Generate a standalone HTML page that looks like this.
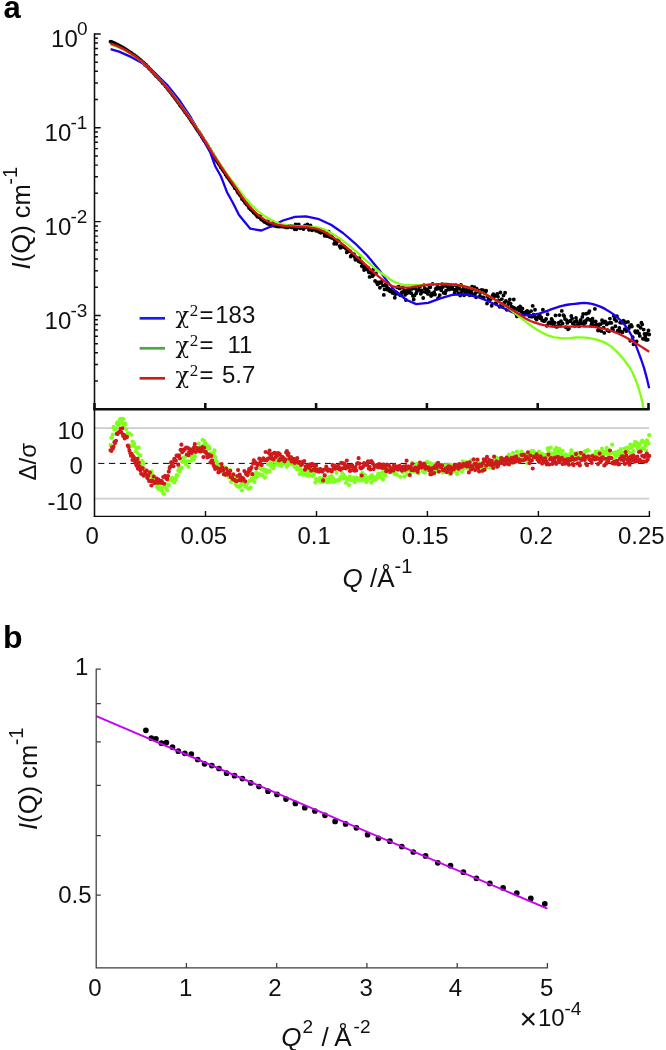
<!DOCTYPE html>
<html lang="en">
<head>
<meta charset="utf-8">
<title>SANS fits and Guinier plot</title>
<style>html,body{margin:0;padding:0;background:#fff}svg{display:block;will-change:transform}</style>
</head>
<body>
<svg width="666" height="1050" viewBox="0 0 666 1050" font-family='"Liberation Sans", Arial, Helvetica, sans-serif' fill="#111">
<rect width="666" height="1050" fill="#fff"/>
<text x="3.4" y="18.2" font-size="31" font-weight="bold" fill="#000">a</text>
<text x="3" y="648.4" font-size="32" font-weight="bold" fill="#000">b</text>
<g stroke="#cdcdcd" stroke-width="1.7" fill="none">
<path d="M94.5 428.2H649.2 M94.5 498.6H649.2"/>
</g>
<path d="M94.5 463.4H649.2" stroke="#000" stroke-width="1" stroke-dasharray="6.2 4.6" stroke-dashoffset="7.1" fill="none"/>
<g fill="none" stroke-linecap="round" stroke-width="4.2">
<path stroke="#80ff1e" d="M110.5 445.2h0M111.3 437.8h0M112.1 437.4h0M112.8 434.6h0M113.6 426.9h0M114.4 429.6h0M115.2 429.7h0M116 428.7h0M116.8 423.4h0M117.6 422.4h0M118.4 425.6h0M119.1 423.8h0M119.9 419.4h0M120.7 419h0M121.5 422.1h0M122.3 418.9h0M123.1 419h0M123.9 425.2h0M124.7 423.3h0M125.4 424.2h0M126.2 429.5h0M127 435.9h0M127.8 433.5h0M128.6 433.3h0M129.4 433.5h0M130.2 445.3h0M131 434.8h0M131.7 445.8h0M132.5 441.6h0M133.3 442h0M134.1 443.6h0M134.9 446.7h0M135.7 451.2h0M136.5 447.8h0M137.3 452.8h0M138 459.4h0M138.8 447.7h0M139.6 455.7h0M140.4 455.4h0M141.2 465h0M142 460.9h0M142.8 462.3h0M143.6 463.7h0M144.3 469h0M145.1 473.1h0M145.9 471.3h0M146.7 477.6h0M147.5 477h0M148.3 473.1h0M149.1 476.8h0M149.9 475.4h0M150.6 476.2h0M151.4 471.7h0M152.2 474.4h0M153 479h0M153.8 476.7h0M154.6 483h0M155.4 482.8h0M156.2 480.4h0M156.9 487.1h0M157.7 485.4h0M158.5 489h0M159.3 485.9h0M160.1 482.6h0M160.9 489.9h0M161.7 488.1h0M162.5 491.9h0M163.2 493.2h0M164 493.9h0M164.8 486.8h0M165.6 484.4h0M166.4 488.8h0M167.2 490.5h0M168 484.5h0M168.8 485.2h0M169.6 480.2h0M170.3 480.5h0M171.1 479.6h0M171.9 477.9h0M172.7 480.6h0M173.5 479.5h0M174.3 482.4h0M175.1 478.1h0M175.9 479.9h0M176.6 475.1h0M177.4 475.7h0M178.2 470.8h0M179 467.9h0M179.8 471.5h0M180.6 468.4h0M181.4 467.6h0M182.2 461.8h0M182.9 458.1h0M183.7 459.7h0M184.5 462.3h0M185.3 456.6h0M186.1 464.5h0M186.9 455.6h0M187.7 461.3h0M188.5 466.9h0M189.2 451.3h0M190 453.9h0M190.8 460.8h0M191.6 456.9h0M192.4 457.3h0M193.2 455.7h0M194 459.5h0M194.8 456.4h0M195.5 452.4h0M196.3 452.2h0M197.1 448.6h0M197.9 450.8h0M198.7 443.5h0M199.5 451h0M200.3 446.9h0M201.1 451.6h0M201.8 448.4h0M202.6 439.9h0M203.4 445.4h0M204.2 440.8h0M205 442.6h0M205.8 446h0M206.6 445.1h0M207.4 447h0M208.1 448.6h0M208.9 446.7h0M209.7 448.6h0M210.5 453.4h0M211.3 455.6h0M212.1 453.5h0M212.9 455.8h0M213.7 453.8h0M214.4 450.4h0M215.2 456.7h0M216 460.3h0M216.8 461.9h0M217.6 464.9h0M218.4 466.2h0M219.2 467.6h0M220 467h0M220.7 468.2h0M221.5 466h0M222.3 470.2h0M223.1 470.6h0M223.9 474.5h0M224.7 467.3h0M225.5 471.4h0M226.3 468.7h0M227.1 472.4h0M227.8 471.2h0M228.6 477h0M229.4 475h0M230.2 470.2h0M231 482h0M231.8 476h0M232.6 475.2h0M233.4 479.4h0M234.1 479.1h0M234.9 478.4h0M235.7 484.6h0M236.5 482.2h0M237.3 486.5h0M238.1 486.6h0M238.9 487h0M239.7 486h0M240.4 485.6h0M241.2 484.9h0M242 490.4h0M242.8 480.5h0M243.6 482.7h0M244.4 483.8h0M245.2 486.6h0M246 485.4h0M246.7 483.2h0M247.5 483.1h0M248.3 488.7h0M249.1 481.2h0M249.9 474.4h0M250.7 487.6h0M251.5 478.9h0M252.3 480h0M253 480.6h0M253.8 475.5h0M254.6 482h0M255.4 477.2h0M256.2 472.5h0M257 476.3h0M257.8 476.1h0M258.6 473.8h0M259.3 474.7h0M260.1 468.3h0M260.9 474.9h0M261.7 469.3h0M262.5 475h0M263.3 469.1h0M264.1 470.9h0M264.9 477.7h0M265.6 469.9h0M266.4 472.6h0M267.2 470.5h0M268 464.4h0M268.8 471.7h0M269.6 471.1h0M270.4 463.4h0M271.2 466.8h0M271.9 462.2h0M272.7 465.3h0M273.5 468.3h0M274.3 465.5h0M275.1 461.4h0M275.9 461.8h0M276.7 464.2h0M277.5 463.8h0M278.2 464h0M279 465.1h0M279.8 457.6h0M280.6 463h0M281.4 466.1h0M282.2 464h0M283 460.3h0M283.8 460.4h0M284.6 462.6h0M285.3 464h0M286.1 461.9h0M286.9 466.8h0M287.7 465.8h0M288.5 460h0M289.3 464h0M290.1 462h0M290.9 460h0M291.6 462.2h0M292.4 464.5h0M293.2 458.9h0M294 463.6h0M294.8 466.9h0M295.6 464.2h0M296.4 465.5h0M297.2 469.6h0M297.9 467.3h0M298.7 468.4h0M299.5 474h0M300.3 469.2h0M301.1 469.9h0M301.9 470.8h0M302.7 474.7h0M303.5 471.3h0M304.2 470.8h0M305 470.8h0M305.8 474.8h0M306.6 470.1h0M307.4 475.8h0M308.2 473.4h0M309 469.4h0M309.8 475.5h0M310.5 475.4h0M311.3 471.2h0M312.1 475.8h0M312.9 475.9h0M313.7 474.8h0M314.5 472.8h0M315.3 482.6h0M316.1 479h0M316.8 479.9h0M317.6 480.6h0M318.4 480.4h0M319.2 480.8h0M320 477.9h0M320.8 481.7h0M321.6 479.1h0M322.4 478.6h0M323.1 482h0M323.9 479.6h0M324.7 475.2h0M325.5 479h0M326.3 481.7h0M327.1 480h0M327.9 482.3h0M328.7 478.8h0M329.4 477h0M330.2 481.7h0M331 479.9h0M331.8 476h0M332.6 480.5h0M333.4 478.5h0M334.2 481.9h0M335 481.3h0M335.8 480.4h0M336.5 472.8h0M337.3 480h0M338.1 480.4h0M338.9 480.5h0M339.7 479.4h0M340.5 477h0M341.3 478.4h0M342.1 473.1h0M342.8 478.3h0M343.6 474.8h0M344.4 478.1h0M345.2 477.2h0M346 483h0M346.8 479.2h0M347.6 479.1h0M348.4 479.6h0M349.1 485h0M349.9 476.4h0M350.7 480h0M351.5 480.1h0M352.3 479.6h0M353.1 479.5h0M353.9 477.6h0M354.7 482.2h0M355.4 481.2h0M356.2 477.7h0M357 477.9h0M357.8 479.3h0M358.6 479.7h0M359.4 480.3h0M360.2 478h0M361 474.4h0M361.7 480.6h0M362.5 473.2h0M363.3 475.1h0M364.1 478.6h0M364.9 475.1h0M365.7 481.3h0M366.5 482h0M367.3 480.7h0M368 478.1h0M368.8 477.8h0M369.6 478.2h0M370.4 476.4h0M371.2 482.6h0M372 475.1h0M372.8 480.4h0M373.6 478.2h0M374.3 477.3h0M375.1 479.3h0M375.9 479.8h0M376.7 478.6h0M377.5 475.6h0M378.3 473.7h0M379.1 473.5h0M379.9 477.7h0M380.6 476.9h0M381.4 477h0M382.2 472.9h0M383 479.7h0M383.8 470.2h0M384.6 474.9h0M385.4 475.5h0M386.2 472.1h0M386.9 470h0M387.7 471.8h0M388.5 469.6h0M389.3 472.1h0M390.1 468.8h0M390.9 468.6h0M391.7 472.3h0M392.5 467.8h0M393.3 471.3h0M394 471.4h0M394.8 474.1h0M395.6 472.1h0M396.4 469h0M397.2 474.8h0M398 469.1h0M398.8 469.8h0M399.6 469.9h0M400.3 476.8h0M401.1 470.7h0M401.9 468.5h0M402.7 472.3h0M403.5 469.8h0M404.3 476.6h0M405.1 467.9h0M405.9 471.5h0M406.6 467.1h0M407.4 474.6h0M408.2 467.4h0M409 469.9h0M409.8 466.8h0M410.6 471.7h0M411.4 470.8h0M412.2 462.6h0M412.9 471.3h0M413.7 470.9h0M414.5 469.6h0M415.3 471.7h0M416.1 465.3h0M416.9 463.8h0M417.7 470.6h0M418.5 473.5h0M419.2 465.2h0M420 465.4h0M420.8 466.2h0M421.6 465.2h0M422.4 470.9h0M423.2 468.9h0M424 472.3h0M424.8 472.4h0M425.5 465.5h0M426.3 470.2h0M427.1 461.8h0M427.9 468.1h0M428.7 470.1h0M429.5 466h0M430.3 463.1h0M431.1 466.8h0M431.8 471.7h0M432.6 467.1h0M433.4 464.3h0M434.2 469.6h0M435 470.4h0M435.8 465.3h0M436.6 467.8h0M437.4 471.3h0M438.1 469.2h0M438.9 470.3h0M439.7 467.3h0M440.5 467.8h0M441.3 464.8h0M442.1 466h0M442.9 472.6h0M443.7 466.9h0M444.4 465.5h0M445.2 466.7h0M446 465h0M446.8 469.6h0M447.6 470.7h0M448.4 465.2h0M449.2 471h0M450 474.1h0M450.8 464.8h0M451.5 469.8h0M452.3 468.6h0M453.1 471.6h0M453.9 471.4h0M454.7 470.8h0M455.5 468.4h0M456.3 466.2h0M457.1 473.9h0M457.8 465h0M458.6 470.5h0M459.4 470.1h0M460.2 464.9h0M461 467h0M461.8 471.2h0M462.6 461.3h0M463.4 469.1h0M464.1 465.8h0M464.9 465.8h0M465.7 462.2h0M466.5 467.6h0M467.3 463.2h0M468.1 468.3h0M468.9 462.7h0M469.7 468.2h0M470.4 466.9h0M471.2 460.3h0M472 464.8h0M472.8 465.3h0M473.6 459h0M474.4 464.4h0M475.2 467.8h0M476 463.1h0M476.7 468.7h0M477.5 461.8h0M478.3 461.5h0M479.1 466.6h0M479.9 466.7h0M480.7 464.2h0M481.5 464.6h0M482.3 467.4h0M483 462.7h0M483.8 470.3h0M484.6 465.5h0M485.4 465.3h0M486.2 464.8h0M487 462.9h0M487.8 467.3h0M488.6 461.9h0M489.3 464h0M490.1 465.3h0M490.9 467.2h0M491.7 466.6h0M492.5 461.9h0M493.3 465.7h0M494.1 462.5h0M494.9 459.4h0M495.6 459.4h0M496.4 457.7h0M497.2 463h0M498 465.2h0M498.8 458.8h0M499.6 460.8h0M500.4 458.2h0M501.2 461.3h0M501.9 457.7h0M502.7 458.5h0M503.5 458.8h0M504.3 459.2h0M505.1 459.4h0M505.9 459.7h0M506.7 459.5h0M507.5 457.1h0M508.3 461.4h0M509 454.6h0M509.8 459.9h0M510.6 456.5h0M511.4 459.5h0M512.2 459.8h0M513 452.8h0M513.8 459.6h0M514.6 462.3h0M515.3 460.4h0M516.1 459.1h0M516.9 451.5h0M517.7 457.1h0M518.5 454.8h0M519.3 460.4h0M520.1 456.2h0M520.9 455.1h0M521.6 451.5h0M522.4 458.8h0M523.2 454.8h0M524 455.6h0M524.8 459.4h0M525.6 456.3h0M526.4 457h0M527.2 463.1h0M527.9 454.2h0M528.7 454.3h0M529.5 457.1h0M530.3 459.8h0M531.1 451.2h0M531.9 454.8h0M532.7 452.5h0M533.5 451.2h0M534.2 456.9h0M535 452.9h0M535.8 456h0M536.6 455.4h0M537.4 455.4h0M538.2 455.1h0M539 451.7h0M539.8 454.6h0M540.5 455.4h0M541.3 455.7h0M542.1 453.8h0M542.9 457.5h0M543.7 456.2h0M544.5 454.8h0M545.3 456.3h0M546.1 454.9h0M546.8 456.4h0M547.6 448.4h0M548.4 450.4h0M549.2 453h0M550 454.5h0M550.8 447.7h0M551.6 453.3h0M552.4 454.5h0M553.1 453.3h0M553.9 453.3h0M554.7 450h0M555.5 454.3h0M556.3 447.9h0M557.1 457h0M557.9 452.2h0M558.7 457.4h0M559.4 448.9h0M560.2 455.5h0M561 454.7h0M561.8 451.7h0M562.6 450.8h0M563.4 458h0M564.2 455.8h0M565 459h0M565.8 454.4h0M566.5 455.2h0M567.3 456h0M568.1 457h0M568.9 456.1h0M569.7 457.2h0M570.5 453.3h0M571.3 450.3h0M572.1 460.9h0M572.8 455.3h0M573.6 456.2h0M574.4 453.4h0M575.2 457.9h0M576 455.4h0M576.8 458.1h0M577.6 452.8h0M578.4 454.6h0M579.1 455.4h0M579.9 453.8h0M580.7 455.7h0M581.5 459.7h0M582.3 453.1h0M583.1 454.1h0M583.9 455.4h0M584.7 451.9h0M585.4 451.2h0M586.2 458.3h0M587 457.3h0M587.8 450.1h0M588.6 450.5h0M589.4 457.1h0M590.2 458.4h0M591 456.7h0M591.7 456.2h0M592.5 459.5h0M593.3 454.5h0M594.1 458.5h0M594.9 458.2h0M595.7 451.6h0M596.5 456.4h0M597.3 454.5h0M598 452.3h0M598.8 451.6h0M599.6 455.1h0M600.4 453.9h0M601.2 456.5h0M602 448.5h0M602.8 451.9h0M603.6 457.3h0M604.3 453.8h0M605.1 451.5h0M605.9 452.2h0M606.7 447.9h0M607.5 449.3h0M608.3 455.2h0M609.1 453.7h0M609.9 457.4h0M610.6 452.5h0M611.4 452.8h0M612.2 444.7h0M613 452.8h0M613.8 459.5h0M614.6 455h0M615.4 452.4h0M616.2 456.6h0M616.9 455.3h0M617.7 453.5h0M618.5 451.2h0M619.3 452.6h0M620.1 454.6h0M620.9 449.2h0M621.7 453.2h0M622.5 452.8h0M623.3 455.3h0M624 453.3h0M624.8 448.5h0M625.6 455.4h0M626.4 450.3h0M627.2 447.6h0M628 450.8h0M628.8 448.6h0M629.6 452.6h0M630.3 444.7h0M631.1 445.2h0M631.9 447.6h0M632.7 453.6h0M633.5 451.1h0M634.3 444.5h0M635.1 441.9h0M635.9 446h0M636.6 442.7h0M637.4 448.3h0M638.2 446.7h0M639 445.8h0M639.8 444.2h0M640.6 450h0M641.4 442h0M642.2 440.5h0M642.9 448h0M643.7 448.3h0M644.5 442.6h0M645.3 445.5h0M646.1 450.6h0M646.9 440.3h0M647.7 442h0M648.5 443.7h0M649.2 435.2h0"/>
<path stroke="#cf1a1c" d="M110.5 450.3h0M111.3 451h0M112.1 447.3h0M112.8 448.7h0M113.6 446.5h0M114.4 442.2h0M115.2 443h0M116 440.9h0M116.8 433.8h0M117.6 434h0M118.4 432.6h0M119.1 432h0M119.9 431.4h0M120.7 428.8h0M121.5 432.6h0M122.3 428.3h0M123.1 435.9h0M123.9 434.8h0M124.7 438.4h0M125.4 436.8h0M126.2 436.7h0M127 437.1h0M127.8 445.7h0M128.6 447h0M129.4 450.3h0M130.2 453h0M131 455.7h0M131.7 453.9h0M132.5 459.9h0M133.3 456.4h0M134.1 457.8h0M134.9 460.9h0M135.7 463.2h0M136.5 465.7h0M137.3 458.8h0M138 468.7h0M138.8 462.7h0M139.6 466.7h0M140.4 470.6h0M141.2 473.8h0M142 469h0M142.8 468h0M143.6 475.7h0M144.3 474.7h0M145.1 471.8h0M145.9 474.3h0M146.7 470.5h0M147.5 477.9h0M148.3 475.5h0M149.1 480.9h0M149.9 472.6h0M150.6 480.9h0M151.4 485.5h0M152.2 480.7h0M153 481.4h0M153.8 476.5h0M154.6 483.1h0M155.4 482.6h0M156.2 481.1h0M156.9 478.5h0M157.7 482.8h0M158.5 479.6h0M159.3 480.7h0M160.1 482.6h0M160.9 481.2h0M161.7 481h0M162.5 483.2h0M163.2 477h0M164 483.7h0M164.8 476.2h0M165.6 476.2h0M166.4 478.4h0M167.2 479.3h0M168 476.1h0M168.8 471.7h0M169.6 468.1h0M170.3 466.6h0M171.1 462.4h0M171.9 465.4h0M172.7 462.1h0M173.5 466.2h0M174.3 458.9h0M175.1 459.8h0M175.9 460.7h0M176.6 455.5h0M177.4 455.9h0M178.2 464.7h0M179 455.4h0M179.8 458.3h0M180.6 449.9h0M181.4 444.7h0M182.2 452.2h0M182.9 449.9h0M183.7 450.7h0M184.5 449.3h0M185.3 448.8h0M186.1 447.5h0M186.9 454.5h0M187.7 447.8h0M188.5 455.2h0M189.2 452h0M190 449.4h0M190.8 449.7h0M191.6 452.9h0M192.4 450.8h0M193.2 449h0M194 447.4h0M194.8 444.2h0M195.5 451.8h0M196.3 447.8h0M197.1 448.5h0M197.9 449.7h0M198.7 450.8h0M199.5 448.4h0M200.3 451.5h0M201.1 450.3h0M201.8 450.9h0M202.6 447.1h0M203.4 457.1h0M204.2 447.8h0M205 451.9h0M205.8 451.9h0M206.6 454h0M207.4 457.3h0M208.1 454.3h0M208.9 456.7h0M209.7 455.1h0M210.5 462.4h0M211.3 455.8h0M212.1 460.3h0M212.9 462.9h0M213.7 465.4h0M214.4 466.8h0M215.2 468.9h0M216 468.2h0M216.8 467.5h0M217.6 468.6h0M218.4 472.5h0M219.2 469.5h0M220 471.4h0M220.7 468.6h0M221.5 464h0M222.3 467.6h0M223.1 470.3h0M223.9 474.2h0M224.7 473.8h0M225.5 474.8h0M226.3 468.5h0M227.1 473.3h0M227.8 471.8h0M228.6 474.6h0M229.4 473.6h0M230.2 470.8h0M231 477.5h0M231.8 477.2h0M232.6 478.9h0M233.4 474.4h0M234.1 479.8h0M234.9 480.2h0M235.7 481h0M236.5 481.2h0M237.3 476h0M238.1 470.1h0M238.9 480.2h0M239.7 474.7h0M240.4 476.7h0M241.2 480.6h0M242 478.3h0M242.8 478h0M243.6 479h0M244.4 471.1h0M245.2 481.3h0M246 474.1h0M246.7 473.4h0M247.5 475.1h0M248.3 472.2h0M249.1 469.2h0M249.9 470.4h0M250.7 468.9h0M251.5 467.3h0M252.3 474.2h0M253 463.5h0M253.8 460.4h0M254.6 463.2h0M255.4 462.3h0M256.2 468.3h0M257 463.9h0M257.8 465h0M258.6 463.7h0M259.3 458.7h0M260.1 463.1h0M260.9 460.7h0M261.7 465.1h0M262.5 459.6h0M263.3 458.4h0M264.1 460.1h0M264.9 459.7h0M265.6 452h0M266.4 460.3h0M267.2 459.6h0M268 458.7h0M268.8 453h0M269.6 450.5h0M270.4 455.5h0M271.2 458.5h0M271.9 457.8h0M272.7 453.8h0M273.5 459.5h0M274.3 452.9h0M275.1 453.2h0M275.9 457.1h0M276.7 455.5h0M277.5 455.3h0M278.2 453h0M279 460.4h0M279.8 454h0M280.6 458.3h0M281.4 459.4h0M282.2 456.8h0M283 457.6h0M283.8 459.7h0M284.6 461.3h0M285.3 459.4h0M286.1 452.6h0M286.9 451.2h0M287.7 454.9h0M288.5 453.6h0M289.3 458.6h0M290.1 457.7h0M290.9 457.1h0M291.6 461.4h0M292.4 461.5h0M293.2 458.9h0M294 460.4h0M294.8 462.9h0M295.6 459.2h0M296.4 461.4h0M297.2 458.2h0M297.9 461.6h0M298.7 462.8h0M299.5 462h0M300.3 463.3h0M301.1 465.1h0M301.9 464.7h0M302.7 461.9h0M303.5 462.5h0M304.2 461h0M305 469.7h0M305.8 466.4h0M306.6 466.7h0M307.4 465.4h0M308.2 467.4h0M309 467.9h0M309.8 464.5h0M310.5 466.5h0M311.3 470.6h0M312.1 463.8h0M312.9 465h0M313.7 469.6h0M314.5 465.9h0M315.3 470.5h0M316.1 465.4h0M316.8 469.4h0M317.6 471.3h0M318.4 470.3h0M319.2 471.6h0M320 469.1h0M320.8 469.3h0M321.6 469.8h0M322.4 471.6h0M323.1 480.4h0M323.9 469.8h0M324.7 475.4h0M325.5 469.3h0M326.3 466.7h0M327.1 469h0M327.9 470.8h0M328.7 470h0M329.4 469.7h0M330.2 470.7h0M331 470.6h0M331.8 471.4h0M332.6 465.2h0M333.4 468.4h0M334.2 465.5h0M335 468.8h0M335.8 467.8h0M336.5 468.4h0M337.3 466.5h0M338.1 465.5h0M338.9 467h0M339.7 469.5h0M340.5 469.8h0M341.3 462.9h0M342.1 468.3h0M342.8 468.3h0M343.6 463.3h0M344.4 464.3h0M345.2 465.8h0M346 468.4h0M346.8 460.6h0M347.6 466h0M348.4 465.6h0M349.1 467.5h0M349.9 471h0M350.7 470.7h0M351.5 465.7h0M352.3 465.7h0M353.1 467.4h0M353.9 470h0M354.7 470.7h0M355.4 467.4h0M356.2 470.5h0M357 463.8h0M357.8 463h0M358.6 458.2h0M359.4 463.6h0M360.2 467.7h0M361 468.4h0M361.7 475.6h0M362.5 467.5h0M363.3 466.3h0M364.1 463h0M364.9 463.9h0M365.7 463.9h0M366.5 465h0M367.3 463.7h0M368 461.4h0M368.8 468.5h0M369.6 466.8h0M370.4 469.5h0M371.2 461h0M372 462h0M372.8 463.6h0M373.6 469.1h0M374.3 465.4h0M375.1 466.6h0M375.9 465.8h0M376.7 466.7h0M377.5 464.8h0M378.3 467.5h0M379.1 464h0M379.9 465.9h0M380.6 467.5h0M381.4 467h0M382.2 468h0M383 464.6h0M383.8 467.7h0M384.6 466.1h0M385.4 468.1h0M386.2 471.2h0M386.9 464.5h0M387.7 470.1h0M388.5 465.2h0M389.3 466h0M390.1 471.8h0M390.9 469.9h0M391.7 468.7h0M392.5 469.6h0M393.3 470.6h0M394 465.2h0M394.8 468h0M395.6 466.3h0M396.4 468.6h0M397.2 466.5h0M398 469.5h0M398.8 467.5h0M399.6 465.8h0M400.3 467.4h0M401.1 468.8h0M401.9 470.6h0M402.7 467.1h0M403.5 466.6h0M404.3 468.3h0M405.1 469.8h0M405.9 466.1h0M406.6 460.7h0M407.4 468.6h0M408.2 466.8h0M409 466.7h0M409.8 475.1h0M410.6 467.5h0M411.4 469.9h0M412.2 464h0M412.9 468.7h0M413.7 470.2h0M414.5 468.6h0M415.3 467.6h0M416.1 469.7h0M416.9 468.3h0M417.7 472h0M418.5 468.8h0M419.2 466h0M420 462.6h0M420.8 466.2h0M421.6 467.5h0M422.4 464.9h0M423.2 465.4h0M424 463.6h0M424.8 465.2h0M425.5 468.7h0M426.3 467.6h0M427.1 467.8h0M427.9 467.5h0M428.7 467.7h0M429.5 470.6h0M430.3 474.3h0M431.1 470.2h0M431.8 474.1h0M432.6 468.1h0M433.4 468.3h0M434.2 473.1h0M435 466.3h0M435.8 465.8h0M436.6 467.9h0M437.4 463.4h0M438.1 462.8h0M438.9 471.6h0M439.7 465.2h0M440.5 466.9h0M441.3 466.9h0M442.1 465.4h0M442.9 470.2h0M443.7 469.8h0M444.4 470.4h0M445.2 470.2h0M446 468.3h0M446.8 472.2h0M447.6 471h0M448.4 466.3h0M449.2 468.1h0M450 466.8h0M450.8 473.3h0M451.5 470.1h0M452.3 469.3h0M453.1 467.6h0M453.9 469.3h0M454.7 464.9h0M455.5 467.7h0M456.3 467.4h0M457.1 467.4h0M457.8 465.3h0M458.6 468.7h0M459.4 464h0M460.2 465.8h0M461 466.7h0M461.8 466.9h0M462.6 465.5h0M463.4 463.9h0M464.1 464.1h0M464.9 465.7h0M465.7 464.1h0M466.5 466.3h0M467.3 462.9h0M468.1 466.5h0M468.9 472.4h0M469.7 462.3h0M470.4 465.8h0M471.2 469.5h0M472 466.5h0M472.8 468.4h0M473.6 459.6h0M474.4 464.2h0M475.2 470.1h0M476 463.8h0M476.7 466.4h0M477.5 459.6h0M478.3 468.1h0M479.1 471.5h0M479.9 464.6h0M480.7 465.7h0M481.5 465.8h0M482.3 470.8h0M483 463.1h0M483.8 459.3h0M484.6 469.7h0M485.4 460.6h0M486.2 465.6h0M487 456.9h0M487.8 462.4h0M488.6 464.1h0M489.3 460.1h0M490.1 461.7h0M490.9 464.9h0M491.7 460.9h0M492.5 464.4h0M493.3 468h0M494.1 456.7h0M494.9 463.6h0M495.6 464.2h0M496.4 461.3h0M497.2 466.8h0M498 466.1h0M498.8 463.4h0M499.6 463.3h0M500.4 461.5h0M501.2 458.2h0M501.9 462.8h0M502.7 459.8h0M503.5 459.4h0M504.3 464.3h0M505.1 460.3h0M505.9 463.7h0M506.7 457.6h0M507.5 459.3h0M508.3 460.5h0M509 464.5h0M509.8 460.1h0M510.6 462.6h0M511.4 458.2h0M512.2 460.6h0M513 462.6h0M513.8 457.3h0M514.6 457.9h0M515.3 461.7h0M516.1 456.4h0M516.9 460.7h0M517.7 460.7h0M518.5 459.4h0M519.3 461.9h0M520.1 461h0M520.9 460.1h0M521.6 455h0M522.4 455.1h0M523.2 460.3h0M524 454.7h0M524.8 459.7h0M525.6 458.4h0M526.4 456.9h0M527.2 458.7h0M527.9 452.3h0M528.7 458.8h0M529.5 463.1h0M530.3 455.6h0M531.1 460.8h0M531.9 460.4h0M532.7 468.5h0M533.5 456.5h0M534.2 457.1h0M535 457.1h0M535.8 456.6h0M536.6 454.4h0M537.4 459.7h0M538.2 456.7h0M539 461.8h0M539.8 460.6h0M540.5 456.3h0M541.3 458.4h0M542.1 463.6h0M542.9 458.5h0M543.7 460.2h0M544.5 462.1h0M545.3 458.4h0M546.1 461h0M546.8 464.5h0M547.6 463.2h0M548.4 454.6h0M549.2 464.5h0M550 459.3h0M550.8 458.2h0M551.6 458.2h0M552.4 463.9h0M553.1 461.2h0M553.9 459.8h0M554.7 457.8h0M555.5 462.2h0M556.3 463.8h0M557.1 457.2h0M557.9 456.9h0M558.7 459.2h0M559.4 462.1h0M560.2 459.1h0M561 460h0M561.8 457.8h0M562.6 464.1h0M563.4 460h0M564.2 460.8h0M565 463.7h0M565.8 459.7h0M566.5 460.3h0M567.3 461.6h0M568.1 459.2h0M568.9 464.7h0M569.7 460.6h0M570.5 459.1h0M571.3 459.6h0M572.1 457.2h0M572.8 464.2h0M573.6 465.1h0M574.4 459.8h0M575.2 459.2h0M576 454.1h0M576.8 458.8h0M577.6 463.4h0M578.4 458.3h0M579.1 463.4h0M579.9 465.4h0M580.7 452.8h0M581.5 459.9h0M582.3 458.7h0M583.1 459.2h0M583.9 455.4h0M584.7 460.1h0M585.4 457.2h0M586.2 464.1h0M587 465.2h0M587.8 456.5h0M588.6 456.3h0M589.4 459.3h0M590.2 460.1h0M591 460.3h0M591.7 462.9h0M592.5 456h0M593.3 458.6h0M594.1 459.1h0M594.9 459.4h0M595.7 457.3h0M596.5 459h0M597.3 458.2h0M598 464.1h0M598.8 458.9h0M599.6 453.6h0M600.4 462h0M601.2 460.8h0M602 457.6h0M602.8 457.4h0M603.6 458.4h0M604.3 465.4h0M605.1 458.8h0M605.9 464h0M606.7 462.9h0M607.5 458.6h0M608.3 461.2h0M609.1 457.8h0M609.9 450.5h0M610.6 457.9h0M611.4 458h0M612.2 463.1h0M613 462.3h0M613.8 463.6h0M614.6 461.9h0M615.4 463.6h0M616.2 462.3h0M616.9 460.8h0M617.7 463.2h0M618.5 464.5h0M619.3 464.2h0M620.1 458.5h0M620.9 459.6h0M621.7 456.5h0M622.5 456.4h0M623.3 460.6h0M624 457.4h0M624.8 463.9h0M625.6 452.1h0M626.4 455.5h0M627.2 459.8h0M628 462.7h0M628.8 457.8h0M629.6 464.7h0M630.3 461.2h0M631.1 456.4h0M631.9 458.4h0M632.7 460.1h0M633.5 455.5h0M634.3 461.7h0M635.1 457.5h0M635.9 459.9h0M636.6 460.9h0M637.4 456.7h0M638.2 461.2h0M639 452h0M639.8 459.8h0M640.6 451.6h0M641.4 461.3h0M642.2 455.8h0M642.9 461.5h0M643.7 461.8h0M644.5 457h0M645.3 455.3h0M646.1 461.4h0M646.9 453.6h0M647.7 459.8h0M648.5 456.8h0M649.2 455.9h0"/>
</g>
<path fill="none" stroke="#000" stroke-linecap="round" stroke-width="3.9" d="M110.5 41.6h0M111.3 42h0M112.1 42.2h0M112.8 42.5h0M113.6 42.9h0M114.4 43.2h0M115.2 43.7h0M116 44.3h0M116.8 44.4h0M117.6 44.8h0M118.4 45.3h0M119.1 45.7h0M119.9 46.1h0M120.7 46.4h0M121.5 47h0M122.3 47.5h0M123.1 47.7h0M123.9 48.3h0M124.7 48.6h0M125.4 49.2h0M126.2 49.6h0M127 50.3h0M127.8 50.7h0M128.6 51.4h0M129.4 51.9h0M130.2 52.4h0M131 52.6h0M131.7 53.4h0M132.5 54h0M133.3 54.6h0M134.1 54.9h0M134.9 55.7h0M135.7 56.2h0M136.5 56.8h0M137.3 57.9h0M138 58h0M138.8 58.8h0M139.6 59.5h0M140.4 60h0M141.2 60.7h0M142 61.4h0M142.8 62.1h0M143.6 62.6h0M144.3 63.5h0M145.1 64.7h0M145.9 64.8h0M146.7 65.9h0M147.5 66.6h0M148.3 67.1h0M149.1 68.5h0M149.9 69.1h0M150.6 69.6h0M151.4 70.7h0M152.2 71.6h0M153 72.3h0M153.8 73.3h0M154.6 74h0M155.4 75.1h0M156.2 75.9h0M156.9 76.4h0M157.7 77.4h0M158.5 78.1h0M159.3 79.1h0M160.1 79.7h0M160.9 80.6h0M161.7 81.6h0M162.5 82.7h0M163.2 83.6h0M164 84.1h0M164.8 85.1h0M165.6 86.3h0M166.4 86.8h0M167.2 88h0M168 89h0M168.8 90.2h0M169.6 91.1h0M170.3 91.9h0M171.1 92.9h0M171.9 94h0M172.7 95.3h0M173.5 96h0M174.3 97.1h0M175.1 98.2h0M175.9 99.2h0M176.6 100.2h0M177.4 101.2h0M178.2 102.4h0M179 103.4h0M179.8 105h0M180.6 105.9h0M181.4 106.7h0M182.2 107.9h0M182.9 108.7h0M183.7 110.1h0M184.5 111.1h0M185.3 112.4h0M186.1 113.1h0M186.9 114.5h0M187.7 115.2h0M188.5 116.3h0M189.2 117.7h0M190 118.8h0M190.8 120.1h0M191.6 121.6h0M192.4 122.2h0M193.2 123.4h0M194 124.7h0M194.8 125.9h0M195.5 127h0M196.3 128.2h0M197.1 129.5h0M197.9 130.7h0M198.7 131.6h0M199.5 133h0M200.3 134.2h0M201.1 135.2h0M201.8 136.7h0M202.6 137.7h0M203.4 139.3h0M204.2 140.4h0M205 141.6h0M205.8 142.8h0M206.6 144.1h0M207.4 145.1h0M208.1 146.5h0M208.9 148.1h0M209.7 148.9h0M210.5 150.8h0M211.3 151.6h0M212.1 153.4h0M212.9 154.3h0M213.7 156h0M214.4 157.1h0M215.2 158h0M216 159.9h0M216.8 161.1h0M217.6 162h0M218.4 163.2h0M219.2 164.4h0M220 165.4h0M220.7 167.2h0M221.5 167.8h0M222.3 169.3h0M223.1 170.3h0M223.9 171.5h0M224.7 172.5h0M225.5 174.4h0M226.3 175.2h0M227.1 176.7h0M227.8 177.6h0M228.6 178.2h0M229.4 179.7h0M230.2 180.8h0M231 182.1h0M231.8 183.1h0M232.6 184.2h0M233.4 185h0M234.1 186.3h0M234.9 188.3h0M235.7 188.6h0M236.5 189.2h0M237.3 191.3h0M238.1 192.9h0M238.9 193h0M239.7 194.7h0M240.4 195.7h0M241.2 195.6h0M242 198.9h0M242.8 199.4h0M243.6 200.6h0M244.4 201.3h0M245.2 202.9h0M246 203.2h0M246.7 204.5h0M247.5 205.1h0M248.3 206h0M249.1 208.1h0M249.9 208.1h0M250.7 209.5h0M251.5 210.1h0M252.3 210.7h0M253 211.5h0M253.8 212.8h0M254.6 213h0M255.4 214h0M256.2 214.8h0M257 216.1h0M257.8 216.9h0M258.6 217h0M259.3 217.1h0M260.1 216.3h0M260.9 219.1h0M261.7 219.7h0M262.5 219.6h0M263.3 220.5h0M264.1 221.7h0M264.9 221.8h0M265.6 222.3h0M266.4 221.9h0M267.2 223.6h0M268 221.4h0M268.8 224h0M269.6 224.1h0M270.4 224.6h0M271.2 225.6h0M271.9 225.6h0M272.7 224h0M273.5 222.5h0M274.3 225.8h0M275.1 223.9h0M275.9 225.6h0M276.7 226.4h0M277.5 224.8h0M278.2 224.6h0M279 226.5h0M279.8 226.4h0M280.6 226.1h0M281.4 226.6h0M282.2 226h0M283 225.6h0M283.8 226.7h0M284.6 226.1h0M285.3 225.6h0M286.1 227.4h0M286.9 226.9h0M287.7 227.4h0M288.5 226.2h0M289.3 226.5h0M290.1 226.2h0M290.9 226.4h0M291.6 227.4h0M292.4 226.5h0M293.2 227.6h0M294 227.6h0M294.8 229.2h0M295.6 224.5h0M296.4 229.3h0M297.2 227.3h0M297.9 227.5h0M298.7 224.4h0M299.5 227.1h0M300.3 228.3h0M301.1 227.5h0M301.9 227.7h0M302.7 227.4h0M303.5 229h0M304.2 227.8h0M305 225.4h0M305.8 227.2h0M306.6 225.8h0M307.4 224.4h0M308.2 227.6h0M309 229.8h0M309.8 228.4h0M310.5 225.5h0M311.3 227.5h0M312.1 230.2h0M312.9 229.2h0M313.7 229.2h0M314.5 229.3h0M315.3 229.6h0M316.1 230.8h0M316.8 230.7h0M317.6 230.8h0M318.4 229h0M319.2 232.1h0M320 230h0M320.8 232.8h0M321.6 229.8h0M322.4 231.8h0M323.1 232.4h0M323.9 230.9h0M324.7 235.8h0M325.5 235.9h0M326.3 233.6h0M327.1 236h0M327.9 235.9h0M328.7 231.8h0M329.4 236.7h0M330.2 236.8h0M331 237.5h0M331.8 236.2h0M332.6 238h0M333.4 238.6h0M334.2 243.7h0M335 240.6h0M335.8 240.5h0M336.5 243.7h0M337.3 240.7h0M338.1 240.8h0M338.9 239.7h0M339.7 246.2h0M340.5 247.8h0M341.3 246.3h0M342.1 246.5h0M342.8 246.2h0M343.6 247h0M344.4 246.8h0M345.2 247.6h0M346 248.8h0M346.8 252.4h0M347.6 251.3h0M348.4 250.9h0M349.1 250.6h0M349.9 251.2h0M350.7 256.5h0M351.5 255.1h0M352.3 255h0M353.1 254.9h0M353.9 254.1h0M354.7 257h0M355.4 259.8h0M356.2 257.9h0M357 258.4h0M357.8 259.8h0M358.6 261.2h0M359.4 258.2h0M360.2 262h0M361 261.4h0M361.7 266.1h0M362.5 263.1h0M363.3 267h0M364.1 270h0M364.9 266.4h0M365.7 266.5h0M366.5 269.2h0M367.3 269.5h0M368 267.8h0M368.8 272.2h0M369.6 276.9h0M370.4 272h0M371.2 273h0M372 271.6h0M372.8 276h0M373.6 269.1h0M374.3 274h0M375.1 281h0M375.9 273.4h0M376.7 282.2h0M377.5 284.2h0M378.3 282.5h0M379.1 283.3h0M379.9 287.8h0M380.6 282.2h0M381.4 282.5h0M382.2 281.1h0M383 285.6h0M383.8 294.9h0M384.6 289.4h0M385.4 284.6h0M386.2 285.4h0M386.9 286.9h0M387.7 289.7h0M388.5 288.8h0M389.3 290.5h0M390.1 291.3h0M390.9 290h0M391.7 291.1h0M392.5 292.9h0M393.3 291.6h0M394 293.6h0M394.8 297.7h0M395.6 294h0M396.4 292.5h0M397.2 287.4h0M398 293.7h0M398.8 286.7h0M399.6 288.4h0M400.3 295.3h0M401.1 294.9h0M401.9 292.3h0M402.7 287.5h0M403.5 291.7h0M404.3 290.8h0M405.1 294.9h0M405.9 300h0M406.6 293.6h0M407.4 290.4h0M408.2 289.1h0M409 292.6h0M409.8 292.2h0M410.6 288.9h0M411.4 293.3h0M412.2 288.7h0M412.9 295.9h0M413.7 299.5h0M414.5 295.5h0M415.3 288.6h0M416.1 293.4h0M416.9 291.2h0M417.7 290.3h0M418.5 290.3h0M419.2 287.1h0M420 286.5h0M420.8 293.7h0M421.6 290.5h0M422.4 291.7h0M423.2 298h0M424 285.2h0M424.8 288.2h0M425.5 292h0M426.3 292h0M427.1 289.4h0M427.9 293.9h0M428.7 291.2h0M429.5 286.4h0M430.3 287.3h0M431.1 296h0M431.8 293.5h0M432.6 284h0M433.4 294.6h0M434.2 292.1h0M435 294.5h0M435.8 288.8h0M436.6 289h0M437.4 286.3h0M438.1 298.3h0M438.9 288.6h0M439.7 295.1h0M440.5 287.7h0M441.3 290.3h0M442.1 284.2h0M442.9 287h0M443.7 292.9h0M444.4 285.5h0M445.2 293.2h0M446 290.8h0M446.8 286.2h0M447.6 286.1h0M448.4 288.2h0M449.2 289.5h0M450 288h0M450.8 287h0M451.5 288.8h0M452.3 286.5h0M453.1 285.6h0M453.9 289.6h0M454.7 293h0M455.5 285h0M456.3 290.2h0M457.1 288h0M457.8 287h0M458.6 293.2h0M459.4 288.7h0M460.2 295.5h0M461 285h0M461.8 292h0M462.6 290.1h0M463.4 288.4h0M464.1 295.3h0M464.9 290.7h0M465.7 293.3h0M466.5 291.3h0M467.3 288h0M468.1 291.4h0M468.9 292h0M469.7 295.2h0M470.4 289.2h0M471.2 292.2h0M472 286.8h0M472.8 294.9h0M473.6 289.3h0M474.4 287.1h0M475.2 293.2h0M476 297.3h0M476.7 288.7h0M477.5 290.4h0M478.3 291.8h0M479.1 290.7h0M479.9 296h0M480.7 292.3h0M481.5 290h0M482.3 297.5h0M483 290.3h0M483.8 297.5h0M484.6 293h0M485.4 292.5h0M486.2 290.7h0M487 303.6h0M487.8 296.5h0M488.6 298.7h0M489.3 298.1h0M490.1 299h0M490.9 299h0M491.7 305.7h0M492.5 295.8h0M493.3 294.3h0M494.1 296.5h0M494.9 295.7h0M495.6 303.2h0M496.4 303.7h0M497.2 294h0M498 296.6h0M498.8 300.5h0M499.6 306.8h0M500.4 292.5h0M501.2 304.4h0M501.9 299.1h0M502.7 306.8h0M503.5 295.4h0M504.3 302.8h0M505.1 292.8h0M505.9 301h0M506.7 309.7h0M507.5 308.1h0M508.3 304.1h0M509 302.8h0M509.8 299.5h0M510.6 303.6h0M511.4 306.9h0M512.2 307.1h0M513 307.4h0M513.8 299.5h0M514.6 308.3h0M515.3 308.8h0M516.1 313.9h0M516.9 316.4h0M517.7 309.5h0M518.5 307.6h0M519.3 310.6h0M520.1 306.4h0M520.9 308.9h0M521.6 311.7h0M522.4 308.5h0M523.2 314.9h0M524 312.7h0M524.8 314.4h0M525.6 313.2h0M526.4 311.5h0M527.2 311h0M527.9 314h0M528.7 313.2h0M529.5 316.4h0M530.3 315.8h0M531.1 311.1h0M531.9 316.8h0M532.7 305.9h0M533.5 314.8h0M534.2 316.3h0M535 309.8h0M535.8 318.4h0M536.6 319.5h0M537.4 317.2h0M538.2 317.1h0M539 315.9h0M539.8 315.4h0M540.5 318.4h0M541.3 317.5h0M542.1 320.2h0M542.9 309.7h0M543.7 321.1h0M544.5 321h0M545.3 320h0M546.1 319h0M546.8 325.7h0M547.6 314.3h0M548.4 323.1h0M549.2 322.4h0M550 322.7h0M550.8 323.2h0M551.6 319h0M552.4 320.7h0M553.1 324.4h0M553.9 325.7h0M554.7 322.7h0M555.5 315.4h0M556.3 326.7h0M557.1 326.7h0M557.9 326.1h0M558.7 322.8h0M559.4 315.1h0M560.2 325.8h0M561 321.1h0M561.8 310.9h0M562.6 323.4h0M563.4 315.3h0M564.2 316.1h0M565 319h0M565.8 327.3h0M566.5 320.1h0M567.3 322.9h0M568.1 329.3h0M568.9 328.6h0M569.7 321.2h0M570.5 320.6h0M571.3 316h0M572.1 318.5h0M572.8 323.4h0M573.6 323.3h0M574.4 322h0M575.2 325.9h0M576 318h0M576.8 321.2h0M577.6 324.7h0M578.4 324h0M579.1 326.2h0M579.9 323.2h0M580.7 320h0M581.5 323h0M582.3 316.9h0M583.1 314h0M583.9 324.1h0M584.7 321.2h0M585.4 322.8h0M586.2 313.7h0M587 319.8h0M587.8 318.7h0M588.6 312.9h0M589.4 311.1h0M590.2 320h0M591 325.7h0M591.7 323.4h0M592.5 318.8h0M593.3 321.6h0M594.1 325.4h0M594.9 308.9h0M595.7 321.4h0M596.5 324.7h0M597.3 325.5h0M598 330.5h0M598.8 328h0M599.6 324.2h0M600.4 324.2h0M601.2 331.1h0M602 320.3h0M602.8 322.8h0M603.6 327.6h0M604.3 332.9h0M605.1 321.5h0M605.9 323h0M606.7 324.4h0M607.5 330.3h0M608.3 323.3h0M609.1 331.2h0M609.9 318.6h0M610.6 322.8h0M611.4 322.9h0M612.2 328.2h0M613 329.8h0M613.8 316.1h0M614.6 319.3h0M615.4 326.3h0M616.2 320.9h0M616.9 316.2h0M617.7 330.7h0M618.5 331h0M619.3 328h0M620.1 322.6h0M620.9 331.5h0M621.7 322.7h0M622.5 332.3h0M623.3 320.7h0M624 321.2h0M624.8 329.2h0M625.6 322.5h0M626.4 331.1h0M627.2 328.9h0M628 321.9h0M628.8 328.4h0M629.6 326.1h0M630.3 340.8h0M631.1 325h0M631.9 326.5h0M632.7 337.3h0M633.5 344.2h0M634.3 343.2h0M635.1 331.2h0M635.9 332.6h0M636.6 341.4h0M637.4 331.1h0M638.2 325.8h0M639 333.4h0M639.8 335.9h0M640.6 327.8h0M641.4 322.7h0M642.2 324.4h0M642.9 338.8h0M643.7 329.6h0M644.5 334h0M645.3 336.8h0M646.1 339.9h0M646.9 333.7h0M647.7 339.8h0M648.5 330.5h0M649.2 334.5h0"/>
<g fill="none" stroke-width="2.3" stroke-linejoin="round">
<path stroke="#1c00f2" d="M110.6 49.2L119 51.6L131 56.9L143 63.6L155 73.2L167 84.8L179 99.7L191 117.7L203 139.3L210.3 152.5L215 165.7L221 176.5L227 192.2L233 203L239 215L250.3 228.7L261.4 230.5L271 226.5L283 220.5L295 216.8L305.9 216.4L319 219.2L331 224.8L343 233L355 243.3L367 255.3L379 269.7L385 278.4L394.6 290.5L406.6 300L416.2 304.1L428.2 302.9L440.3 298.4L452.3 294.8L464.3 294.3L476.3 296.5L488.3 301.3L500.3 306.8L512.3 312.1L521.9 315.2L530 315.3L530 315.3L533 314.8L536 314.2L539 313.5L542 312.7L545 311.7L548 310.6L551 309.4L554 308.3L557 307.4L560 306.4L563 305.6L566 305L569 304.5L572 304.1L575 303.8L578 303.5L581 303.2L584 303L587 303.1L590 303.5L593 304.2L596 305.1L599 306.1L602 307.4L605 308.9L608 310.7L611 312.6L614 314.7L617 317.1L620 319.8L623 322.9L626 326.7L629 331.1L632 336.4L635 343.4L638 351.1L641 359L644 367.9L647 378.9L649.2 388.3"/>
<path stroke="#80ff14" d="M110.6 44.6L113.6 45.5L116.6 46.6L119.6 47.9L122.6 49.3L125.6 50.8L128.6 52.6L131.6 54.4L134.6 56.3L137.6 58.4L140.6 60.7L143.6 63.1L146.6 65.8L149.6 68.8L152.6 71.9L155.6 75L158.6 78.2L161.6 81.4L164.6 84.7L167.6 88.2L170.6 91.9L173.6 95.8L176.6 99.8L179.6 103.8L182.6 107.9L185.6 112L188.6 116.2L191.6 120.5L194.6 124.8L197.6 129.2L200.6 133.8L203.6 138.3L206.6 143L209.6 147.8L212.6 152.6L215.6 157.2L218.6 161.8L221.6 166.2L224.6 170.6L227.6 174.8L230.6 178.9L233.6 182.8L236.6 186.7L239.6 190.7L242.6 194.7L245.6 198.4L248.6 201.8L251.6 205.1L254.6 208.1L257.6 210.9L260.6 213.2L263.6 215.4L266.6 217.3L269.6 219L272.6 220.5L275.6 222L278.6 223.3L281.6 224.3L284.6 224.9L287.6 225.3L290.6 225.7L293.6 225.9L296.6 226.1L299.6 226.2L302.6 226.3L305.6 226.4L308.6 226.6L311.6 226.8L314.6 227.1L317.6 227.5L320.6 228.1L323.6 229.1L326.6 230.6L329.6 232.2L332.6 233.9L335.6 235.7L338.6 237.8L341.6 239.9L344.6 242.1L347.6 244.4L350.6 246.8L353.6 249.3L356.6 251.9L359.6 254.6L362.6 257.3L365.6 260.1L368.6 262.7L371.6 265.4L374.6 268.1L377.6 270.5L380.6 272.7L383.6 274.7L386.6 276.7L389.6 279L392.6 281L395.6 282.4L398.6 283.5L401.6 284.5L404.6 285.1L407.6 285.2L410.6 285.2L413.6 285.2L416.6 285.2L419.6 285.2L422.6 285.2L425.6 285L428.6 284.7L431.6 284.5L434.6 284.3L437.6 284.2L440.6 284.1L443.6 284L446.6 284L449.6 284.2L452.6 284.4L455.6 284.7L458.6 285.1L461.6 285.7L464.6 286.4L467.6 287.2L470.6 288.1L473.6 289.1L476.6 290.2L479.6 291.5L482.6 292.8L485.6 294.4L488.6 296.1L491.6 297.8L494.6 299.5L497.6 301.2L500.6 302.9L503.6 304.7L506.6 306.7L509.6 308.9L512.6 311.3L515.6 313.7L518.6 316.1L521.6 318.5L524.6 320.9L527.6 323.2L530.6 325.3L533.6 327.5L536.6 329.5L539.6 331.3L542.6 332.9L545.6 334.3L548.6 335.6L551.6 336.7L554.6 337.3L557.6 337.7L560.6 338.1L563.6 338.3L566.6 338.4L569.6 338.2L572.6 337.8L575.6 337.4L578.6 337.3L581.6 337.4L584.6 337.6L587.6 337.9L590.6 338.3L593.6 338.8L596.6 339.6L599.6 340.6L602.6 341.7L605.6 343.1L608.6 344.9L611.6 346.9L614.6 349.5L617.6 352.4L620.6 355.7L623.6 359.3L626.6 363.3L629.6 367.4L632.6 372.7L635.6 379.5L638.6 388L641.6 399L643.7 409"/>
<path stroke="#d71419" d="M110.6 43.6L113.6 44.6L116.6 45.8L119.6 47.1L122.6 48.6L125.6 50.2L128.6 52L131.6 53.9L134.6 55.9L137.6 58.1L140.6 60.4L143.6 62.9L146.6 65.7L149.6 68.7L152.6 71.9L155.6 75L158.6 78.2L161.6 81.5L164.6 84.9L167.6 88.4L170.6 92.2L173.6 96.1L176.6 100.1L179.6 104.1L182.6 108.2L185.6 112.4L188.6 116.6L191.6 121L194.6 125.4L197.6 129.9L200.6 134.4L203.6 139L206.6 143.8L209.6 148.7L212.6 153.5L215.6 158.2L218.6 162.8L221.6 167.3L224.6 171.8L227.6 176.2L230.6 180.4L233.6 184.6L236.6 188.9L239.6 193.4L242.6 197.8L245.6 201.9L248.6 205.5L251.6 208.8L254.6 211.8L257.6 214.5L260.6 216.8L263.6 219L266.6 220.9L269.6 222.4L272.6 223.4L275.6 224.3L278.6 225L281.6 225.5L284.6 225.9L287.6 226.1L290.6 226.3L293.6 226.4L296.6 226.6L299.6 226.7L302.6 226.9L305.6 227.1L308.6 227.4L311.6 227.8L314.6 228.4L317.6 229.2L320.6 230.2L323.6 231.6L326.6 233.3L329.6 235.2L332.6 237.1L335.6 239.1L338.6 241.2L341.6 243.4L344.6 245.8L347.6 248.4L350.6 251.2L353.6 254L356.6 256.7L359.6 259.4L362.6 262.1L365.6 264.8L368.6 267.6L371.6 270.3L374.6 273.1L377.6 275.7L380.6 278.2L383.6 280.6L386.6 282.7L389.6 284.7L392.6 286.3L395.6 286.9L398.6 287.2L401.6 287.4L404.6 287.6L407.6 287.6L410.6 287.3L413.6 286.8L416.6 286.3L419.6 285.8L422.6 285.4L425.6 285.1L428.6 284.7L431.6 284.5L434.6 284.3L437.6 284.2L440.6 284.1L443.6 284L446.6 284L449.6 284.2L452.6 284.4L455.6 284.7L458.6 285.1L461.6 285.7L464.6 286.4L467.6 287.2L470.6 288.1L473.6 289.1L476.6 290.2L479.6 291.5L482.6 292.8L485.6 294.3L488.6 296L491.6 297.6L494.6 299.3L497.6 301L500.6 302.7L503.6 304.5L506.6 306.3L509.6 308.2L512.6 310.1L515.6 312L518.6 313.9L521.6 315.9L524.6 317.9L527.6 319.6L530.6 321L533.6 322.2L536.6 323.2L539.6 324.1L542.6 324.8L545.6 325.5L548.6 326.1L551.6 326.5L554.6 326.6L557.6 326.6L560.6 326.6L563.6 326.6L566.6 326.6L569.6 326.6L572.6 326.5L575.6 326.4L578.6 326.4L581.6 326.4L584.6 326.5L587.6 326.5L590.6 326.6L593.6 326.9L596.6 327.3L599.6 327.8L602.6 328.4L605.6 329.1L608.6 330L611.6 331L614.6 332.1L617.6 333.3L620.6 334.7L623.6 336.2L626.6 337.7L629.6 339.4L632.6 341.2L635.6 343.1L638.6 345L641.6 346.9L644.6 348.8L647.6 350.7L649.2 351.8"/>
</g>
<g fill="none" stroke="#0d0d0d">
<path stroke-width="1.55" d="M94.5 33.2V517"/>
<path stroke-width="1.45" d="M94.5 33.9h6.2M94.5 99.5h3.4M94.5 83h3.4M94.5 71.2h3.4M94.5 62.2h3.4M94.5 54.7h3.4M94.5 48.4h3.4M94.5 43h3.4M94.5 38.2h3.4M94.5 127.8h6.2M94.5 193.3h3.4M94.5 176.8h3.4M94.5 165.1h3.4M94.5 156h3.4M94.5 148.6h3.4M94.5 142.3h3.4M94.5 136.8h3.4M94.5 132h3.4M94.5 221.6h6.2M94.5 287.2h3.4M94.5 270.7h3.4M94.5 258.9h3.4M94.5 249.9h3.4M94.5 242.4h3.4M94.5 236.1h3.4M94.5 230.7h3.4M94.5 225.9h3.4M94.5 315.4h6.2M94.5 381h3.4M94.5 364.5h3.4M94.5 352.8h3.4M94.5 343.7h3.4M94.5 336.3h3.4M94.5 330h3.4M94.5 324.5h3.4M94.5 319.7h3.4"/>
<path stroke-width="1.4" d="M93.8 516.4H650.1"/>
<path stroke-width="1.4" d="M205.5 516.4v-5.3M316.5 516.4v-5.3M427.4 516.4v-5.3M538.4 516.4v-5.3M649.4 516.4v-5.3"/>
<path stroke-width="2.55" d="M94.5 409.2v-6.1M205.3 409.2v-6.1M316.1 409.2v-6.1M426.9 409.2v-6.1M537.7 409.2v-6.1M648.5 409.2v-6.1"/>
<path stroke-width="2.65" d="M93.2 409.2H649.7"/>
</g>
<text x="51.1" y="47" font-size="24" >10</text>
<text x="77" y="35.1" font-size="19" >0</text>
<text x="44.6" y="140.8" font-size="24" >10</text>
<text x="70.5" y="128.9" font-size="19" >-1</text>
<text x="44.6" y="234.7" font-size="24" >10</text>
<text x="70.5" y="222.8" font-size="19" >-2</text>
<text x="44.6" y="328.5" font-size="24" >10</text>
<text x="70.5" y="316.6" font-size="19" >-3</text>
<text x="57.4" y="439" font-size="24" >10</text>
<text x="69.4" y="474.2" font-size="24" >0</text>
<text x="47.6" y="510.2" font-size="24" >-10</text>
<text x="85.5" y="544.2" font-size="24" >0</text>
<text x="180.4" y="544.2" font-size="24" >0.05</text>
<text x="297.5" y="544.2" font-size="24" >0.1</text>
<text x="401.8" y="544.2" font-size="24" >0.15</text>
<text x="519.5" y="544.2" font-size="24" >0.2</text>
<text x="618" y="544.2" font-size="24" >0.25</text>
<text transform="translate(30.4 269.4) rotate(-90)" font-size="25.6"><tspan font-style="italic">I</tspan>(Q) cm<tspan font-size="20" dy="-13.8" dx="-0.6">-1</tspan></text>
<text transform="translate(35.7 480.5) rotate(-90)" font-size="24">Δ/σ</text>
<text x="342.5" y="586.5" font-size="26"><tspan font-style="italic">Q</tspan> /Å<tspan font-size="20" dy="-13.3">-1</tspan></text>
<path d="M139.6 318.3H165" stroke="#1a1af5" stroke-width="2.7" fill="none"/>
<text x="175.4" y="323.1" font-size="22.5" font-family='"DejaVu Serif", "Liberation Serif", serif'>χ</text>
<text x="189.8" y="316.2" font-size="17" font-family='"Liberation Serif", "DejaVu Serif", serif'>2</text>
<text x="199.4" y="323.1" font-size="24" >=</text>
<text x="215.2" y="323.1" font-size="24" >183</text>
<path d="M139.6 348.3H165" stroke="#4fa83f" stroke-width="2.7" fill="none"/>
<text x="175.4" y="353" font-size="22.5" font-family='"DejaVu Serif", "Liberation Serif", serif'>χ</text>
<text x="189.8" y="346.1" font-size="17" font-family='"Liberation Serif", "DejaVu Serif", serif'>2</text>
<text x="199.4" y="353" font-size="24" >=</text>
<text x="227.4" y="353" font-size="24" >11</text>
<path d="M139.6 378.3H165" stroke="#cf1a1c" stroke-width="2.7" fill="none"/>
<text x="175.4" y="382.9" font-size="22.5" font-family='"DejaVu Serif", "Liberation Serif", serif'>χ</text>
<text x="189.8" y="376" font-size="17" font-family='"Liberation Serif", "DejaVu Serif", serif'>2</text>
<text x="199.4" y="382.9" font-size="24" >=</text>
<text x="222" y="382.9" font-size="24" >5.7</text>
<path fill="none" stroke="#000" stroke-linecap="round" stroke-width="5.7" d="M145.9 730.3h0M151.3 738.2h0M155.9 738.9h0M161.4 743.2h0M166.4 742.5h0M172.5 747.2h0M178.3 751.2h0M184.8 753.3h0M191.3 754.1h0M197.7 759.5h0M204.6 763.8h0M211.8 765.6h0M219 768.5h0M226.6 773.2h0M234.5 775.7h0M242.4 778.6h0M250.7 782.9h0M259 786.5h0M268 791.2h0M277 794.4h0M286 799.1h0M295.4 803.4h0M304.8 807.7h0M314.9 811h0M325 815.3h0M335.1 821.4h0M345.6 823.9h0M356.4 827.8h0M367.6 834.7h0M378.4 838.3h0M389.9 841.2h0M401.8 846.6h0M413.3 852h0M425.6 855.9h0M437.8 862.8h0M450.5 865.7h0M463.4 872.2h0M476.4 878.3h0M489.8 883.4h0M503.1 887.9h0M516.8 893h0M530.8 898.4h0M544.8 903.8h0"/>
<path d="M96.3 716.2L547.4 908.7" stroke="#c800f5" stroke-width="2" fill="none"/>
<g fill="none" stroke="#3c3c3c" stroke-width="1.25">
<path d="M96.2 668.7V967.9H547.9"/>
<path d="M96.2 669.2h4.6M96.2 703.5h4.6M96.2 741.9h4.6M96.2 785.4h4.6M96.2 835.6h4.6M96.2 895h4.6M186.4 967.9v-4.8M276.7 967.9v-4.8M366.9 967.9v-4.8M457.2 967.9v-4.8M547.4 967.9v-4.8"/>
</g>
<text x="75.1" y="675" font-size="24" >1</text>
<text x="58.2" y="902.9" font-size="24" >0.5</text>
<text x="88.3" y="995.6" font-size="24" >0</text>
<text x="179" y="995.6" font-size="24" >1</text>
<text x="268.3" y="995.6" font-size="24" >2</text>
<text x="359.5" y="995.6" font-size="24" >3</text>
<text x="448.7" y="995.6" font-size="24" >4</text>
<text x="540" y="995.6" font-size="24" >5</text>
<text transform="translate(36.8 830.0) rotate(-90)" font-size="25.6"><tspan font-style="italic">I</tspan>(Q) cm<tspan font-size="20" dy="-13.8" dx="-0.6">-1</tspan></text>
<text x="281.2" y="1045.8" font-size="26" font-style="italic">Q</text>
<text x="302.4" y="1033.2" font-size="19" >2</text>
<text x="321.4" y="1045.8" font-size="26" >/</text>
<text x="334.2" y="1045.8" font-size="26" >Å</text>
<text x="353.6" y="1033.2" font-size="19" >-2</text>
<text x="519.4" y="1029" font-size="30" >×</text>
<text x="538" y="1026.1" font-size="24" >10</text>
<text x="564.4" y="1015.3" font-size="19" >-4</text>
</svg>
</body>
</html>
